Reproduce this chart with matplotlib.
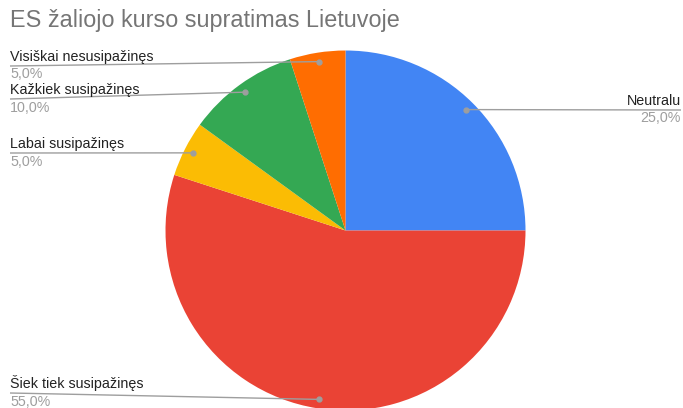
import numpy as np
import matplotlib.pyplot as plt

plt.rcParams['font.family'] = ['Liberation Sans', 'DejaVu Sans']

# duomenys
categories = ['Neutralu', 'Šiek tiek susipažinęs', 'Labai susipažinęs',
              'Kažkiek susipažinęs', 'Visiškai nesusipažinęs']
values = [25.0, 55.0, 5.0, 10.0, 5.0]
colors = ['#4285F4', '#EA4335', '#FBBC04', '#34A853', '#FF6D01']
pct_labels = ['25,0%', '55,0%', '5,0%', '10,0%', '5,0%']

W, H = 683, 408
fig = plt.figure(figsize=(W / 100, H / 100), dpi=100)
ax = fig.add_axes([0, 0, 1, 1])

cx, cy, r = 345.5, H - 230.5, 180
ax.pie(values, colors=colors, startangle=90, counterclock=False,
       center=(cx, cy), radius=r, wedgeprops=dict(linewidth=0),
       frame=True)
ax.set_xlim(0, W)
ax.set_ylim(0, H)
ax.set_aspect('equal')
ax.axis('off')

ax.text(10, H - 20, 'ES žaliojo kurso supratimas Lietuvoje', fontsize=16.8,
        color='#757575', va='center', ha='left')

# užrašų vieta: (x, y linijos, pusė)
label_pos = {
    'Neutralu': (681, 110, 'right'),
    'Šiek tiek susipažinęs': (10, 393, 'left'),
    'Labai susipažinęs': (10, 153, 'left'),
    'Kažkiek susipažinęs': (10, 99, 'left'),
    'Visiškai nesusipažinęs': (10, 66, 'left'),
}

total = sum(values)
cum = 0.0
for name, v, pct in zip(categories, values, pct_labels):
    mid = (cum + v / 2) / total * 2 * np.pi
    cum += v
    dx = cx + 0.95 * r * np.sin(mid)
    dy = cy + 0.95 * r * np.cos(mid)
    lx, ly, side = label_pos[name]
    ly = H - ly
    ax.plot([lx, dx], [ly, dy], color='#9E9E9E', lw=1, solid_capstyle='butt')
    ax.plot(dx, dy, 'o', color='#9E9E9E', ms=3.5)
    ax.text(lx, ly + 2, name, fontsize=10.3, color='#222222', ha=side, va='bottom')
    ax.text(lx, ly - 1.5, pct, fontsize=10.3, color='#9E9E9E', ha=side, va='top')

fig.savefig('out.png', dpi=100, facecolor='white')
